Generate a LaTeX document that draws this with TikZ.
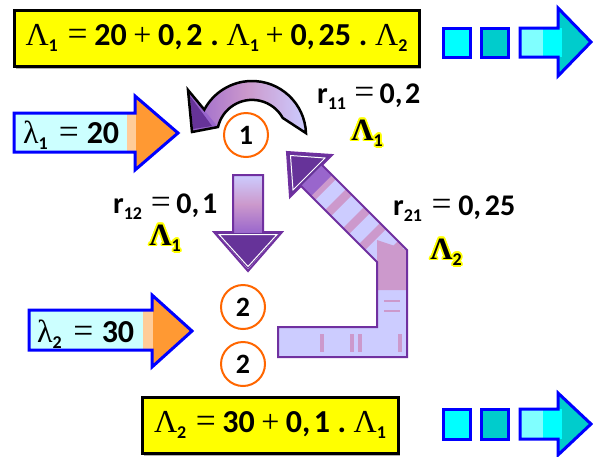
\documentclass[tikz,border=0pt]{standalone}
\usepackage{fontspec}
\setmainfont{Carlito}
\newfontfamily\serf{Liberation Serif}
\usetikzlibrary{calc}
\definecolor{boxyellow}{HTML}{FFFF00}
\definecolor{arrblue}{HTML}{0000FF}
\definecolor{lcyan}{HTML}{CCFFFF}
\definecolor{lorange}{HTML}{FFCC99}
\definecolor{orangeh}{HTML}{FF9933}
\definecolor{circor}{HTML}{FF6600}
\definecolor{lav}{HTML}{CCCCFF}
\definecolor{pinkl}{HTML}{CC99CC}
\definecolor{purm}{HTML}{9966CC}
\definecolor{purd}{HTML}{663399}
\definecolor{purline}{HTML}{7030A0}
\definecolor{cyanA}{HTML}{00FFFF}
\definecolor{cyanB}{HTML}{00CCCC}
\definecolor{cyanC}{HTML}{80FFFF}
\newcommand\Lm{{\serf\mdseries Λ}}
\newcommand\Lb{{\serf\bfseries Λ}}
\newcommand\lm{{\serf\mdseries λ}}
\newcommand\sbx[1]{\raisebox{-0.2em}{\fontsize{18}{18}\selectfont\bfseries #1}}
\newcommand\gap[1]{\hspace{#1 plus 1fil}}
\newcommand\eqs{\gap{8pt}\resizebox{20pt}{!}{\serf\mdseries =}\gap{5pt}}
\newcommand\pls{\gap{5pt}{\serf\mdseries +}\gap{5pt}}
\newcommand\dt{\gap{6pt}.\gap{6pt}}
\newcommand\cma{,\gap{2pt}}
\tikzset{
  eqbox/.style={draw=black, line width=3pt, fill=boxyellow, inner sep=0pt,
    font=\fontsize{32}{38}\selectfont\bfseries},
  lamtext/.style={anchor=base west, inner sep=0pt, font=\fontsize{32}{38}\selectfont\bfseries},
  rtext/.style={anchor=base west, inner sep=0pt, font=\fontsize{30}{36}\selectfont\bfseries},
  glowtext/.style={inner sep=0pt, font=\fontsize{31}{36}\selectfont\bfseries},
  station/.style={circle, draw=circor, line width=2pt, fill=white, minimum size=44pt,
    inner sep=0pt, font=\fontsize{28}{34}\selectfont\bfseries},
  bluearrow/.style={draw=arrblue, line width=3pt, line join=miter},
  sq/.style={draw=arrblue, line width=3pt},
  purpout/.style={draw=purline, line width=2pt, line join=miter},
}
\newcommand\glowlabel[3]{%
  \foreach \ang in {0,30,...,330}
    \node[glowtext, text=boxyellow] at ($(#1)+(\ang:1.8)$) {#3};
  \node[glowtext] (#2) at (#1) {#3};}
\begin{document}
\begin{tikzpicture}[x=1pt,y=-1pt]
\useasboundingbox (0,0) rectangle (593,456);
\fill[white] (0,0) rectangle (593,456);

% ---------- top equation box ----------
\fill[black!30] (16,12) rectangle (421,69);
\node[eqbox, minimum width=405pt, minimum height=56pt] (eqA) at (216.5,38)
  {\makebox[382pt][s]{\Lm\sbx{1}\eqs 20\pls 0\cma 2\dt\Lm\sbx{1}\pls 0\cma 25\dt\Lm\sbx{2}}};

% ---------- bottom equation box ----------
\fill[black!30] (144,399) rectangle (400,456);
\node[eqbox, minimum width=256pt, minimum height=56pt] (eqB) at (270,425)
  {\makebox[232pt][s]{\Lm\sbx{2}\eqs 30\pls 0\cma 1\dt\Lm\sbx{1}}};

% ---------- top right squares + arrow ----------
\node[sq, fill=cyanA, minimum width=27pt, minimum height=29pt, inner sep=0pt] (sqA1) at (456.5,42.5) {};
\node[sq, fill=cyanB, minimum width=27pt, minimum height=29pt, inner sep=0pt] (sqA2) at (495,42.5) {};
\fill[cyanC] (520,28) rectangle (543,57);
\fill[cyanA] (543,28) rectangle (562,57);
\fill[cyanB] (558,57) -- (558,76) -- (591,42) -- (558,8) -- (558,28) -- (562,28) -- (562,57) -- cycle;
\fill[cyanA] (558,28) rectangle (562,57);
\draw[bluearrow] (520,28) -- (558,28) -- (558,8) -- (591,42) -- (558,76) -- (558,57) -- (520,57) -- cycle;

% ---------- bottom right squares + arrow ----------
\node[sq, fill=cyanA, minimum width=27pt, minimum height=30pt, inner sep=0pt] (sqB1) at (456.5,424) {};
\node[sq, fill=cyanB, minimum width=27pt, minimum height=30pt, inner sep=0pt] (sqB2) at (495,424) {};
\fill[cyanC] (520,409) rectangle (543,439);
\fill[cyanA] (543,409) rectangle (562,439);
\fill[cyanB] (558,439) -- (558,455) -- (591,424) -- (558,393) -- (558,409) -- (562,409) -- (562,439) -- cycle;
\fill[cyanA] (558,409) rectangle (562,439);
\draw[bluearrow] (520,409) -- (558,409) -- (558,393) -- (591,424) -- (558,455) -- (558,439) -- (520,439) -- cycle;

% ---------- lambda 1 arrow ----------
\fill[lcyan] (14,113) rectangle (127,152);
\fill[lorange] (127,113) rectangle (137,152);
\fill[orangeh] (136,98) -- (177,133) -- (136,168) -- cycle;
\fill[orangeh] (136,113) rectangle (140,152);
\draw[bluearrow] (14,113) -- (135,113) -- (135,96) -- (178,133) -- (135,170) -- (135,152) -- (14,152) -- cycle;
\node[lamtext] (lam1) at (23,143) {\makebox[96pt][s]{\lm\sbx{1}\eqs 20}};

% ---------- lambda 2 arrow ----------
\fill[lcyan] (29,310) rectangle (143,350);
\fill[lorange] (143,310) rectangle (153,350);
\fill[orangeh] (153,297) -- (191,331) -- (153,365) -- cycle;
\draw[bluearrow] (29,310) -- (152,310) -- (152,295) -- (192,331) -- (152,367) -- (152,350) -- (29,350) -- cycle;
\node[lamtext] (lam2) at (37,342) {\makebox[97pt][s]{\lm\sbx{2}\eqs 30}};

% ---------- stations ----------
\node[station] (s1) at (246,135) {1};
\node[station] (s2a) at (243,307) {2};
\node[station] (s2b) at (243,364) {2};

% ---------- curved arrow r11 ----------
\coordinate (ca) at (252,135);
\path[left color=purm, right color=lav, middle color=pinkl]
  ($(ca)+(-2:54)$) arc[start angle=-2, end angle=-152, radius=54]
  -- (188,90) -- (192,132) -- (218,127)
  arc[start angle=-167, end angle=-29, radius=35] -- cycle;
\fill[purm] (188,90) -- (204,110) -- (218,127) -- (192,132) -- cycle;
\fill[purd] (190,96) -- (212,126) -- (193,129) -- cycle;
\draw[black, line width=2.5pt, line join=miter]
  ($(ca)+(-2:54)$) arc[start angle=-2, end angle=-152, radius=54]
  -- (188,90) -- (192,132) -- (218,127)
  arc[start angle=-167, end angle=-29, radius=35] -- cycle;

% ---------- down arrow r12 ----------
\path[top color=lav, bottom color=purm, middle color=pinkl] (233,175) rectangle (263,233);
\fill[purd] (216,233) -- (280,233) -- (248,269) -- cycle;
\draw[white, line width=1pt] (219,234.5) -- (277,234.5) -- (248,266.5) -- cycle;
\draw[purpout] (233,175) -- (263,175) -- (263,232) -- (282,232) -- (248,271) -- (214,232) -- (233,232) -- cycle;

% ---------- L arrow r21 ----------
\fill[lav] (278,327) -- (377,327) -- (377,262) -- (301,186) -- (322,165) -- (407,250) -- (407,357) -- (278,357) -- cycle;
\begin{scope}
  \clip (377,262) -- (301,186) -- (322,165) -- (407,250) -- (407,300) -- (377,300) -- cycle;
  \foreach \t in {8,24,42,58,76} \fill[pinkl] ($(301,186)+(\t,\t)$) -- ++(21,-21) -- ++(6,6) -- ++(-21,21) -- cycle;
  \fill[pinkl] (377,240) -- (407,250) -- (407,290) -- (377,290) -- cycle;
\end{scope}
\foreach \yy in {300,310} \fill[pinkl] (384,\yy) rectangle (400,\yy+2);
\foreach \xx in {320,350,358,398} \fill[pinkl] (\xx,334) rectangle (\xx+4,352);
\fill[purm] (301,186) -- (322,165) -- (332,175) -- (311,196) -- cycle;
\fill[purd] (287,152) -- (332,155) -- (290,197) -- cycle;
\draw[white, line width=1pt] (290.5,155.5) -- (325,158) -- (293,190) -- cycle;
\draw[purpout] (278,327) -- (377,327) -- (377,262) -- (301,186) -- (290,197) -- (287,152) -- (332,155) -- (322,165) -- (407,250) -- (407,357) -- (278,357) -- cycle;

% ---------- rate labels ----------
\node[rtext] (r11) at (317,103) {\makebox[103pt][s]{r\sbx{11}\eqs 0\cma 2}};
\glowlabel{367,133}{g11}{\Lb\sbx{1}}
\node[rtext] (r12) at (113,213) {\makebox[104pt][s]{r\sbx{12}\eqs 0\cma 1}};
\glowlabel{165,238}{g12}{\Lb\sbx{1}}
\node[rtext] (r21) at (393,215) {\makebox[122pt][s]{r\sbx{21}\eqs 0\cma 25}};
\glowlabel{446,252}{g21}{\Lb\sbx{2}}
\end{tikzpicture}
\end{document}
